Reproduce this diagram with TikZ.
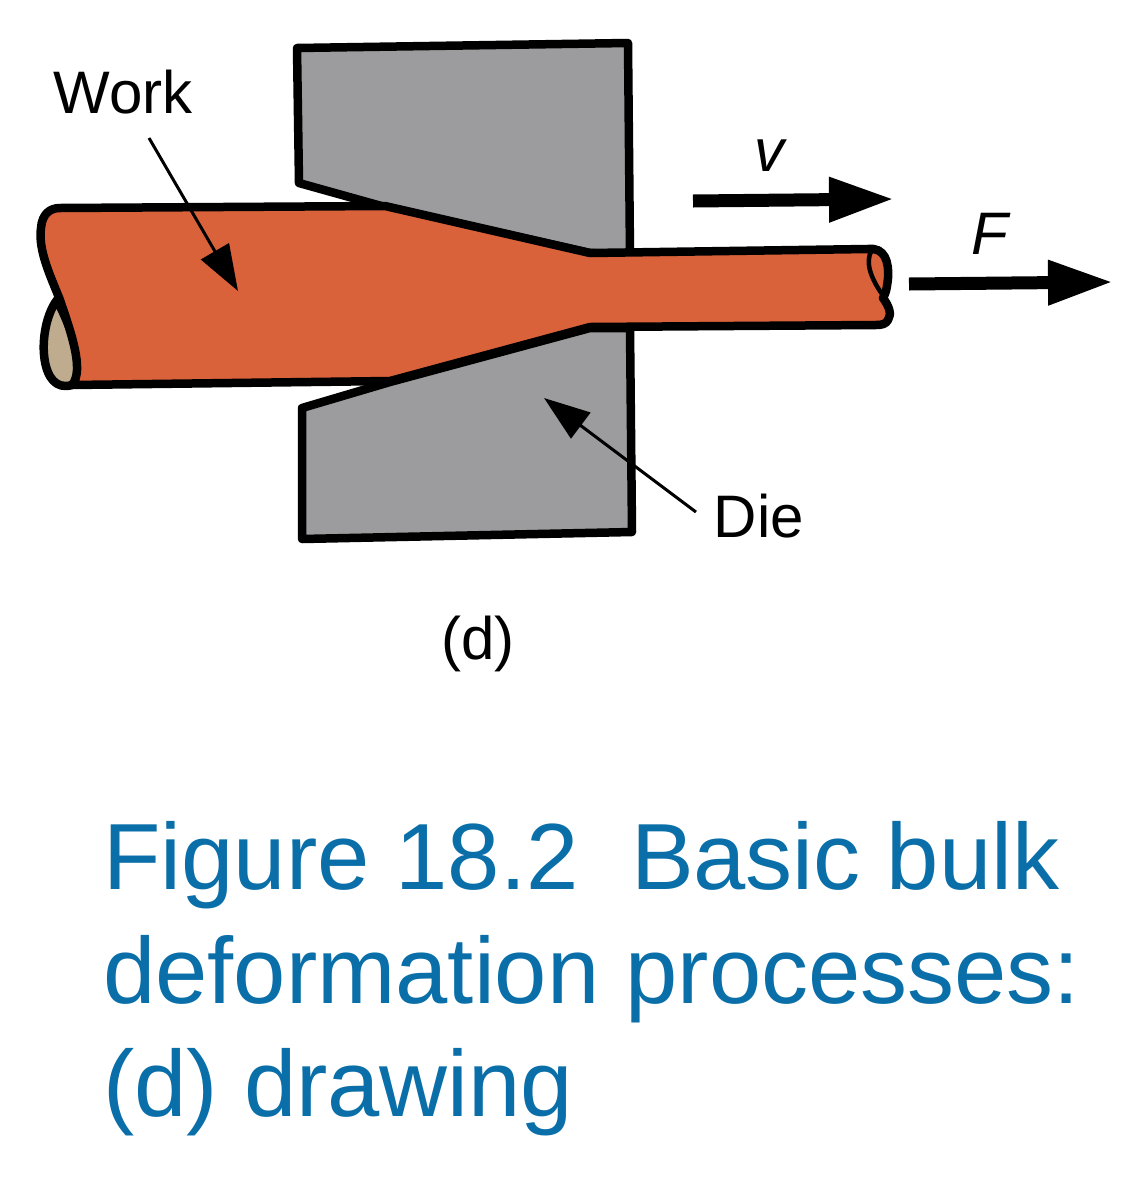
\documentclass[tikz,border=0pt]{standalone}
\usepackage{fontspec}
\setmainfont{Liberation Sans}
\definecolor{workc}{HTML}{D9623B}
\definecolor{diec}{HTML}{9C9C9E}
\definecolor{tanc}{HTML}{BFAB8E}
\definecolor{capc}{HTML}{0A6FA8}
\usetikzlibrary{arrows.meta}
\tikzset{
  outl/.style={draw=black,line width=8.5pt,line join=round},
  thinarrow/.style={draw=black,line width=3pt,-{Triangle[length=46pt,width=32pt]}},
  thickarrow/.style={draw=black,line width=13pt,-{Triangle[length=65pt,width=42pt]}},
  lab/.style={font=\fontsize{60}{64}\selectfont,anchor=base,inner sep=0pt},
  ilab/.style={font=\fontsize{60}{64}\selectfont\itshape,anchor=base,inner sep=0pt},
  captxt/.style={font=\fontsize{94}{113}\selectfont,text=capc,anchor=base west,inner sep=0pt}
}
\begin{document}
\begin{tikzpicture}[x=1pt,y=-1pt]
\useasboundingbox (0,0) rectangle (1141,1200);
% die
\path[outl,fill=diec] (297,48) -- (628,43) -- (630,255) -- (590,253) -- (385,207) -- (299,183) -- cycle;
\path[outl,fill=diec] (302,408) -- (390,382) -- (590,328) -- (630,328) -- (632,532) -- (302,539) -- cycle;
% tan end
\path[outl,fill=tanc] (57,300) .. controls (38,325) and (38,387) .. (66,386) .. controls (88,386) and (82,350) .. cycle;
% work
\path[outl,fill=workc] (60,208) -- (385,206) -- (590,253) -- (868,249)
  .. controls (885,247) and (889,262) .. (888,278) .. controls (887,288) and (886,293) .. (883,298)
  .. controls (889,306) and (892,314) .. (888,320) .. controls (886,324) and (882,325) .. (876,325)
  -- (590,327) -- (390,381) -- (72,385)
  .. controls (85,370) and (70,330) .. (60,300) .. controls (50,275) and (38,250) .. (41,228)
  .. controls (42,214) and (50,208) .. cycle;
\path[draw=black,line width=4.5pt] (872,250) .. controls (864,262) and (872,280) .. (882,294);
% arrows
\coordinate (wa) at (149,138); \coordinate (wb) at (238,291);
\draw[thinarrow] (wa) -- (wb);
\coordinate (da) at (696,512); \coordinate (db) at (544,398);
\draw[thinarrow] (da) -- (db);
\coordinate (va) at (693,201); \coordinate (vb) at (894,199);
\draw[thickarrow] (va) -- (vb);
\coordinate (fa) at (909,284); \coordinate (fb) at (1113,282);
\draw[thickarrow] (fa) -- (fb);
% labels
\node[lab] (work) at (123,113) {Work};
\node[lab] (die) at (759,537) {Die};
\node[lab] (d) at (478,659) {(d)};
\node[ilab] (v) at (769,171) {v};
\node[ilab] (F) at (990,254) {F};
\node[captxt] (c1) at (103,889) {Figure 18.2\hspace{0.28em} Basic bulk};
\node[captxt] (c2) at (103,1003) {deformation processes:};
\node[captxt] (c3) at (103,1116) {(d) drawing};
\end{tikzpicture}
\end{document}
